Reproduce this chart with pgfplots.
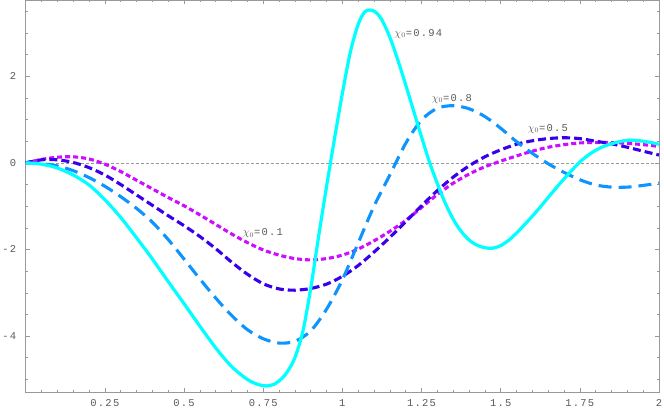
\documentclass[border=0pt]{standalone}
\usepackage{fontspec}
\setmonofont{Liberation Mono}[LetterSpace=12]
\usepackage{pgfplots}
\pgfplotsset{compat=1.18}
\definecolor{cy}{rgb}{0,1,1}
\definecolor{lb}{rgb}{0.05,0.58,1}
\definecolor{db}{rgb}{0.22,0,0.92}
\definecolor{mg}{rgb}{0.8,0.05,1}
\definecolor{fr}{gray}{0.6}
\definecolor{lab}{gray}{0.35}
\begin{document}
\begin{tikzpicture}
\begin{axis}[
  scale only axis, width=633.3bp, height=392bp,
  xmin=0, xmax=2, ymin=-5.29, ymax=3.76,
  axis line style={fr, line width=0.8bp},
  xtick={0,0.25,0.5,0.75,1,1.25,1.5,1.75,2},
  xticklabels={,0.25,0.5,0.75,1,1.25,1.5,1.75,2},
  ytick={-4,-2,0,2}, yticklabels={-4,-2,0,2},
  minor xtick={0.05,0.1,0.15,0.2,0.3,0.35,0.4,0.45,0.55,0.6,0.65,0.7,0.8,0.85,0.9,0.95,1.05,1.1,1.15,1.2,1.3,1.35,1.4,1.45,1.55,1.6,1.65,1.7,1.8,1.85,1.9,1.95},
  minor ytick={-5,-4.5,-3.5,-3,-2.5,-1.5,-1,-0.5,0.5,1,1.5,2.5,3,3.5},
  tick align=inside,
  major tick length=4bp, minor tick length=2.5bp,
  tick style={fr, line width=0.6bp},
  ticklabel style={font=\fontsize{10.5}{12}\selectfont\ttfamily, text=lab},
  xticklabel style={yshift=-4bp},
  yticklabel style={xshift=-6bp},
  clip=false,
]
\addplot[fr, line width=0.6bp, dash pattern=on 3bp off 2bp] coordinates {(0,0) (2,0)};

\addplot[mg, line width=3.1bp, dash pattern=on 5bp off 3bp, smooth] coordinates {
(0,0) (0.05,0.08) (0.1,0.13) (0.15,0.14) (0.2,0.09) (0.25,-0.03) (0.3,-0.2) (0.35,-0.4) (0.4,-0.6) (0.45,-0.8) (0.5,-0.99) (0.55,-1.2) (0.6,-1.42) (0.65,-1.64) (0.7,-1.84) (0.75,-2.01) (0.8,-2.13) (0.85,-2.21) (0.9,-2.24) (0.95,-2.21) (1.0,-2.13) (1.05,-1.99) (1.1,-1.8) (1.15,-1.58) (1.2,-1.33) (1.25,-1.03) (1.3,-0.73) (1.35,-0.47) (1.4,-0.26) (1.45,-0.09) (1.5,0.04) (1.55,0.16) (1.6,0.27) (1.65,0.36) (1.7,0.42) (1.75,0.46) (1.8,0.47) (1.85,0.47) (1.9,0.45) (1.95,0.42) (2,0.38)};

\addplot[db, line width=3.1bp, dash pattern=on 8bp off 4bp, smooth] coordinates {
(0,0) (0.05,0.07) (0.1,0.07) (0.15,0.01) (0.2,-0.11) (0.25,-0.28) (0.3,-0.5) (0.35,-0.74) (0.4,-0.98) (0.45,-1.22) (0.5,-1.45) (0.55,-1.7) (0.6,-1.98) (0.65,-2.29) (0.7,-2.57) (0.75,-2.79) (0.8,-2.91) (0.85,-2.94) (0.9,-2.9) (0.95,-2.8) (1.0,-2.62) (1.05,-2.37) (1.1,-2.06) (1.15,-1.72) (1.2,-1.36) (1.25,-0.99) (1.3,-0.64) (1.35,-0.33) (1.4,-0.07) (1.45,0.14) (1.5,0.3) (1.55,0.43) (1.6,0.51) (1.65,0.56) (1.7,0.58) (1.75,0.56) (1.8,0.5) (1.85,0.44) (1.9,0.36) (1.95,0.27) (2,0.18)};

\addplot[lb, line width=3.1bp, dash pattern=on 13bp off 7bp, smooth] coordinates {
(0,0) (0.05,-0.02) (0.1,-0.07) (0.15,-0.18) (0.2,-0.34) (0.25,-0.54) (0.3,-0.78) (0.35,-1.05) (0.4,-1.37) (0.45,-1.77) (0.5,-2.22) (0.55,-2.68) (0.6,-3.12) (0.65,-3.52) (0.7,-3.85) (0.75,-4.06) (0.8,-4.16) (0.85,-4.12) (0.9,-3.88) (0.95,-3.38) (1.0,-2.7) (1.05,-1.85) (1.1,-1.0) (1.15,-0.28) (1.2,0.45) (1.25,0.99) (1.3,1.26) (1.35,1.32) (1.4,1.25) (1.45,1.07) (1.5,0.8) (1.55,0.49) (1.6,0.22) (1.65,-0.02) (1.7,-0.22) (1.75,-0.39) (1.8,-0.51) (1.85,-0.56) (1.9,-0.56) (1.95,-0.52) (2,-0.47)};

\addplot[cy, line width=3.2bp, smooth] coordinates {
(0,0) (0.05,-0.03) (0.1,-0.12) (0.15,-0.28) (0.2,-0.51) (0.25,-0.85) (0.3,-1.26) (0.35,-1.73) (0.4,-2.22) (0.45,-2.74) (0.5,-3.25) (0.55,-3.77) (0.6,-4.27) (0.65,-4.7) (0.7,-5.0) (0.735,-5.12) (0.76,-5.15) (0.785,-5.11) (0.81,-4.97) (0.83,-4.78) (0.85,-4.5) (0.875,-3.9) (0.9,-2.9) (0.925,-1.7) (0.95,-0.55) (0.975,0.55) (1.0,1.6) (1.025,2.55) (1.05,3.2) (1.07,3.48) (1.087,3.53) (1.105,3.48) (1.125,3.3) (1.15,2.9) (1.175,2.38) (1.2,1.8) (1.225,1.2) (1.25,0.6) (1.275,0.02) (1.3,-0.48) (1.325,-0.93) (1.35,-1.3) (1.375,-1.58) (1.4,-1.78) (1.425,-1.9) (1.45,-1.96) (1.475,-1.97) (1.5,-1.91) (1.525,-1.79) (1.55,-1.62) (1.575,-1.43) (1.6,-1.23) (1.625,-1.02) (1.65,-0.8) (1.675,-0.58) (1.7,-0.37) (1.725,-0.17) (1.75,0.02) (1.775,0.17) (1.8,0.29) (1.825,0.38) (1.85,0.44) (1.875,0.49) (1.9,0.52) (1.925,0.52) (1.95,0.5) (1.975,0.47) (2,0.43)};

\node[text=lab, font=\fontsize{10.5}{12}\selectfont\ttfamily, inner sep=0pt] at (axis cs:1.24,2.98) {$\chi_0$=0.94};
\node[text=lab, font=\fontsize{10.5}{12}\selectfont\ttfamily, inner sep=0pt] at (axis cs:1.346,1.48) {$\chi_0$=0.8};
\node[text=lab, font=\fontsize{10.5}{12}\selectfont\ttfamily, inner sep=0pt] at (axis cs:1.649,0.785) {$\chi_0$=0.5};
\node[text=lab, font=\fontsize{10.5}{12}\selectfont\ttfamily, inner sep=0pt] at (axis cs:0.749,-1.62) {$\chi_0$=0.1};
\end{axis}
\pgfresetboundingbox
\path ([xshift=-25.7bp,yshift=-19bp]current axis.south west) rectangle ([xshift=5bp]current axis.north east);
\end{tikzpicture}
\end{document}
